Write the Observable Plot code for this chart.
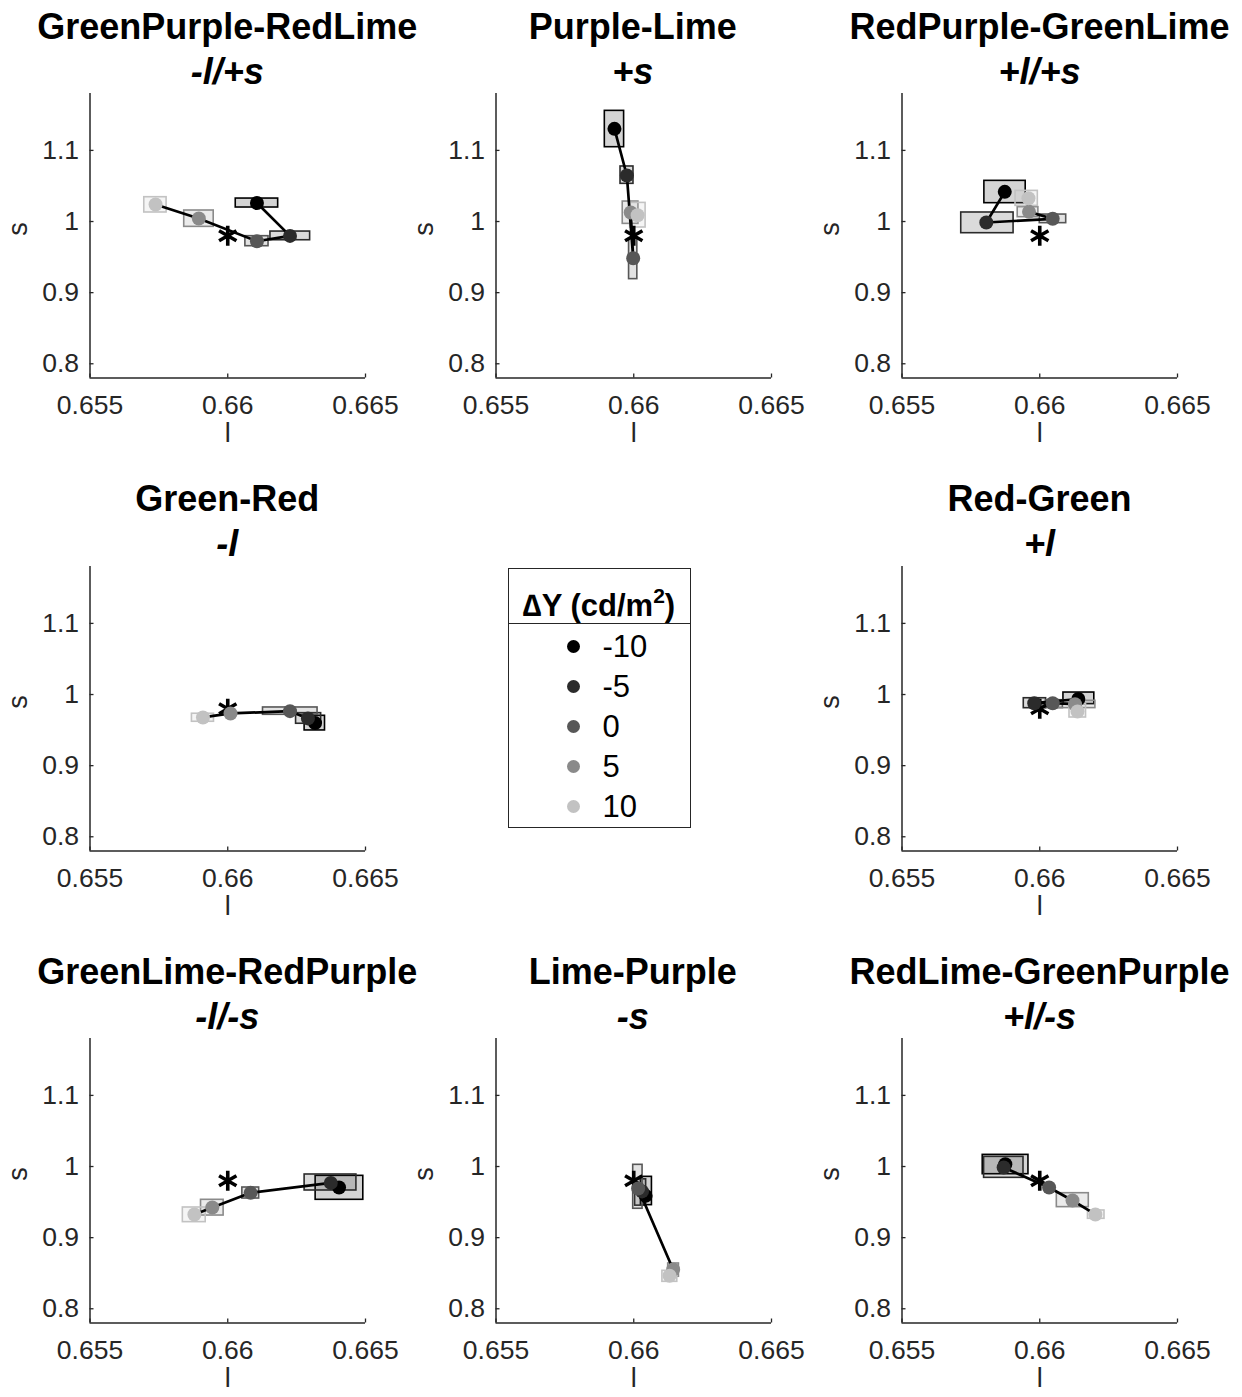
<!DOCTYPE html>
<html>
<head>
<meta charset="utf-8">
<script src="https://cdn.jsdelivr.net/npm/d3@7"></script>
<script src="https://cdn.jsdelivr.net/npm/@observablehq/plot@0.6"></script>
<style>
  html, body { margin: 0; padding: 0; background: #ffffff; }
  #root { position: relative; width: 1242px; height: 1397px; overflow: hidden; font-family: "Liberation Sans", Arial, Helvetica, sans-serif; color: #000; }
  .ttl { position: absolute; width: 600px; text-align: center; font-weight: bold; white-space: nowrap; line-height: 1; }
  .panel { position: absolute; }
  #legend { position: absolute; box-sizing: border-box; border: 1.3px solid #262626; background: #fff; }
  #legend .hdr { position: absolute; left: 0; right: 0; text-align: center; font-weight: bold; line-height: 1; white-space: nowrap; }
  #legend .sep { position: absolute; left: 0; right: 0; border-top: 1.3px solid #262626; }
  #legend .dot { position: absolute; border-radius: 50%; }
  #legend .lab { position: absolute; line-height: 1; white-space: nowrap; }
</style>
</head>
<body>
<div id="root"></div>
<script>
// ---------- data ----------
const deltaY = [-10, -5, 0, 5, 10];
const dyColors = ["#000000", "#2b2b2b", "#575757", "#8a8a8a", "#c2c2c2"];
const xTicks = [0.655, 0.66, 0.665];
const yTicks = [0.8, 0.9, 1, 1.1];
const xDomain = [0.655, 0.665];
const yDomain = [0.78, 1.18];
const refPoint = [0.66, 0.98];

const panelTitles = ["GreenPurple-RedLime", "Purple-Lime", "RedPurple-GreenLime",
                     "Green-Red", "Red-Green",
                     "GreenLime-RedPurple", "Lime-Purple", "RedLime-GreenPurple"];
const panelSubtitles = ["-l/+s", "+s", "+l/+s", "-l", "+l", "-l/-s", "-s", "+l/-s"];

// rows ordered by deltaY: [l, s, lLow, lHigh, sLow, sHigh]
const greenPurpleRedLime = [
  [0.66106, 1.0260, 0.66029, 0.66183, 1.0197, 1.0323],
  [0.66226, 0.9798, 0.66155, 0.66299, 0.9737, 0.9859],
  [0.66106, 0.9723, 0.66064, 0.66148, 0.9653, 0.9794],
  [0.65895, 1.0042, 0.65842, 0.65949, 0.9925, 1.0155],
  [0.65738, 1.0239, 0.65697, 0.65778, 1.0127, 1.0342]
];
const purpleLime = [
  [0.65930, 1.1303, 0.65895, 0.65965, 1.1045, 1.1556],
  [0.65975, 1.0647, 0.65952, 0.65999, 1.0530, 1.0774],
  [0.65998, 0.9484, 0.65983, 0.66013, 0.9190, 0.9760],
  [0.65989, 1.0127, 0.65960, 0.66017, 0.9967, 1.0281],
  [0.66014, 1.0089, 0.65987, 0.66043, 0.9916, 1.0262]
];
const redPurpleGreenLime = [
  [0.65873, 1.0417, 0.65799, 0.65949, 1.0258, 1.0572],
  [0.65806, 0.9986, 0.65715, 0.65905, 0.9836, 1.0127],
  [0.66047, 1.0038, 0.66000, 0.66096, 0.9977, 1.0098],
  [0.65961, 1.0136, 0.65920, 0.65995, 1.0061, 1.0202],
  [0.65959, 1.0328, 0.65912, 0.65993, 1.0220, 1.0431]
];
const greenRed = [
  [0.66317, 0.9598, 0.66279, 0.66353, 0.9495, 0.9701],
  [0.66291, 0.9664, 0.66248, 0.66339, 0.9589, 0.9738],
  [0.66226, 0.9766, 0.66128, 0.66326, 0.9715, 0.9818],
  [0.66010, 0.9734, 0.66003, 0.66017, 0.9722, 0.9746],
  [0.65910, 0.9678, 0.65870, 0.65950, 0.9617, 0.9730]
];
const redGreen = [
  [0.66140, 0.9937, 0.66086, 0.66198, 0.9865, 1.0028],
  [0.65980, 0.9878, 0.65942, 0.66023, 0.9808, 0.9948],
  [0.66047, 0.9878, 0.66023, 0.66084, 0.9810, 0.9920],
  [0.66128, 0.9864, 0.66060, 0.66202, 0.9809, 0.9912],
  [0.66137, 0.9762, 0.66108, 0.66168, 0.9677, 0.9865]
];
const greenLimeRedPurple = [
  [0.66404, 0.9705, 0.66319, 0.66492, 0.9532, 0.9869],
  [0.66374, 0.9770, 0.66279, 0.66467, 0.9663, 0.9888],
  [0.66083, 0.9630, 0.66053, 0.66114, 0.9550, 0.9705],
  [0.65944, 0.9424, 0.65903, 0.65985, 0.9311, 0.9532],
  [0.65879, 0.9326, 0.65837, 0.65920, 0.9218, 0.9424]
];
const limePurple = [
  [0.66043, 0.9588, 0.66026, 0.66066, 0.9457, 0.9855],
  [0.66030, 0.9650, 0.66005, 0.66045, 0.9450, 0.9820],
  [0.66016, 0.9691, 0.65998, 0.66032, 0.9406, 1.0024],
  [0.66143, 0.8553, 0.66125, 0.66164, 0.8450, 0.8637],
  [0.66130, 0.8464, 0.66104, 0.66158, 0.8379, 0.8534]
];
const redLimeGreenPurple = [
  [0.65875, 1.0033, 0.65793, 0.65959, 0.9892, 1.0164],
  [0.65869, 0.9986, 0.65798, 0.65941, 0.9841, 1.0136],
  [0.66034, 0.9705, 0.66020, 0.66048, 0.9670, 0.9740],
  [0.66119, 0.9522, 0.66062, 0.66178, 0.9429, 0.9625],
  [0.66202, 0.9326, 0.66175, 0.66235, 0.9265, 0.9382]
];

const panelData = [greenPurpleRedLime, purpleLime, redPurpleGreenLime,
                   greenRed, redGreen,
                   greenLimeRedPurple, limePurple, redLimeGreenPurple];

// ---------- layout ----------
const colLeft = [89.5, 495, 901.7];
const rowTop = [93, 565.5, 1038];
const frameW = 275.5, frameH = 284.5;
const panelCells = [[0,0],[0,1],[0,2],[1,0],[1,2],[2,0],[2,1],[2,2]];
const M = {left: 89.5, right: 40, top: 10, bottom: 85};
const FONT = "'Liberation Sans', Arial, Helvetica, sans-serif";
const titleSize = 36;

const root = document.getElementById("root");

function buildPanel(rows) {
  const data = rows.map((r, i) => ({dy: deltaY[i], l: r[0], s: r[1], l1: r[2], l2: r[3], s1: r[4], s2: r[5]}));
  const tickLenY = (yDomain[1] - yDomain[0]) * 4 / frameH;
  const tickLenX = (xDomain[1] - xDomain[0]) * 4 / frameW;
  return Plot.plot({
    width: M.left + frameW + M.right,
    height: M.top + frameH + M.bottom,
    marginLeft: M.left, marginRight: M.right, marginTop: M.top, marginBottom: M.bottom,
    style: {fontFamily: FONT, fontSize: "26.5px", color: "#262626", background: "transparent", overflow: "visible"},
    x: {domain: xDomain, ticks: xTicks, tickSize: 0, tickPadding: 17, tickFormat: d => String(d), label: null},
    y: {domain: yDomain, ticks: yTicks, tickSize: 0, tickPadding: 11, tickFormat: d => String(d), label: null},
    color: {type: "ordinal", domain: deltaY, range: dyColors},
    marks: [
      Plot.ruleX([xDomain[0]], {stroke: "#262626", strokeWidth: 1.5}),
      Plot.ruleY([yDomain[0]], {stroke: "#262626", strokeWidth: 1.5}),
      Plot.ruleX(xTicks, {y1: yDomain[0], y2: yDomain[0] + tickLenY, stroke: "#262626", strokeWidth: 1.3}),
      Plot.ruleY(yTicks, {x1: xDomain[0], x2: xDomain[0] + tickLenX, stroke: "#262626", strokeWidth: 1.3}),
      Plot.rect(data, {x1: "l1", x2: "l2", y1: "s1", y2: "s2", fill: "dy", fillOpacity: 0.17, stroke: "dy", strokeWidth: 1.6}),
      Plot.line(data, {x: "l", y: "s", stroke: "#000", strokeWidth: 2.7}),
      Plot.dot([refPoint], {x: d => d[0], y: d => d[1], symbol: "asterisk", r: 9.5, stroke: "#000", strokeWidth: 3.6}),
      Plot.dot(data, {x: "l", y: "s", fill: "dy", r: 7}),
      Plot.text(["l"], {text: d => d, frameAnchor: "bottom", dy: 64, fontSize: 27, fill: "#262626"}),
      Plot.text(["s"], {text: d => d, frameAnchor: "left", dx: -72, rotate: -90, fontSize: 27, fill: "#262626"})
    ]
  });
}

panelData.forEach((rows, k) => {
  const [r, c] = panelCells[k];
  const fx = colLeft[c], fy = rowTop[r];
  const cx = fx + frameW / 2;

  const t1 = document.createElement("div");
  t1.className = "ttl";
  t1.style.fontSize = titleSize + "px";
  t1.style.left = (cx - 300) + "px";
  t1.style.top = (fy - 66.5 - 0.49 * titleSize) + "px";
  t1.textContent = panelTitles[k];
  root.appendChild(t1);

  const t2 = document.createElement("div");
  t2.className = "ttl";
  t2.style.fontSize = titleSize + "px";
  t2.style.fontStyle = "italic";
  t2.style.left = (cx - 300) + "px";
  t2.style.top = (fy - 21.5 - 0.49 * titleSize) + "px";
  t2.textContent = panelSubtitles[k];
  root.appendChild(t2);

  const wrap = document.createElement("div");
  wrap.className = "panel";
  wrap.style.left = (fx - M.left) + "px";
  wrap.style.top = (fy - M.top) + "px";
  wrap.appendChild(buildPanel(rows));
  root.appendChild(wrap);
});

// ---------- legend ----------
const lg = document.createElement("div");
lg.id = "legend";
lg.style.left = "507.5px"; lg.style.top = "567.5px";
lg.style.width = "183px"; lg.style.height = "260px";
const hdr = document.createElement("div");
hdr.className = "hdr";
hdr.style.fontSize = "31px";
hdr.style.top = (37 - 0.49 * 31) + "px";
hdr.innerHTML = "\u2206Y (cd/m<sup style=\"font-size:21px;vertical-align:0.6em;line-height:0\">2</sup>)";
lg.appendChild(hdr);
const sep = document.createElement("div");
sep.className = "sep";
sep.style.top = "54px";
lg.appendChild(sep);
const rowCenters = [77.5, 118, 158, 198, 238];
deltaY.forEach((v, i) => {
  const d = document.createElement("div");
  d.className = "dot";
  const rr = 6.5;
  d.style.width = (2 * rr) + "px"; d.style.height = (2 * rr) + "px";
  d.style.left = (65 - rr) + "px"; d.style.top = (rowCenters[i] - rr) + "px";
  d.style.background = dyColors[i];
  lg.appendChild(d);
  const t = document.createElement("div");
  t.className = "lab";
  t.style.fontSize = "31px";
  t.style.left = "94px";
  t.style.top = (rowCenters[i] - 0.49 * 31) + "px";
  t.textContent = String(v);
  lg.appendChild(t);
});
root.appendChild(lg);
</script>
</body>
</html>
